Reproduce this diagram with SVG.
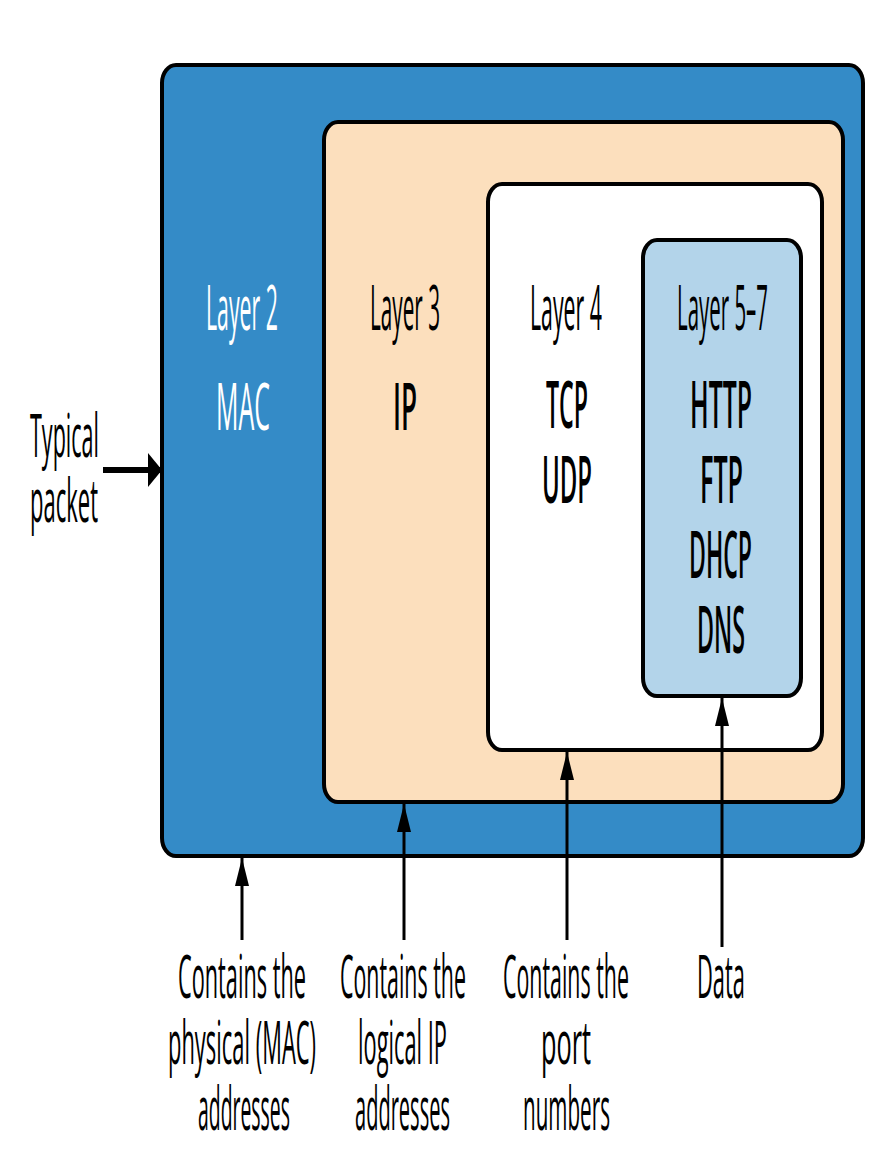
<svg xmlns="http://www.w3.org/2000/svg" width="880" height="1155" viewBox="0 0 880 1155">
<style>
.box{stroke:#000;stroke-width:4}
.t{font-family:"Open Sans","Liberation Sans",sans-serif;text-anchor:start}
.lay{font-size:63px}
.pro{font-size:66px;font-weight:600}
.lbl{font-size:61px}
.w{fill:#fff}
.k{fill:#000}
.ln{stroke:#000;stroke-width:3;fill:none}
</style>
<defs>
<marker id="up" markerUnits="userSpaceOnUse" markerWidth="28" markerHeight="14" refX="28" refY="7" orient="auto">
<path d="M0,0 L28,7 L0,14 z" fill="#000"/>
</marker>
<marker id="rt" markerUnits="userSpaceOnUse" markerWidth="14" markerHeight="34" refX="14" refY="17" orient="auto">
<path d="M0,0 L14,17 L0,34 z" fill="#000"/>
</marker>
</defs>
<g id="layer2">
<rect class="box" x="162" y="65" width="701" height="791" rx="14" ry="18" fill="#348BC7"/>
<text class="t lay w" transform="translate(206,330) scale(0.35,1)" textLength="205.7" lengthAdjust="spacingAndGlyphs">Layer 2</text>
<text class="t pro w" transform="translate(216,430) scale(0.35,1)" textLength="154.3" lengthAdjust="spacingAndGlyphs" style="font-weight:400">MAC</text>
</g>
<g id="layer3">
<rect class="box" x="324" y="122" width="519" height="680" rx="14" ry="18" fill="#FCDFBD"/>
<text class="t lay k" transform="translate(370,330) scale(0.35,1)" textLength="200" lengthAdjust="spacingAndGlyphs">Layer 3</text>
<text class="t pro k" transform="translate(393,430) scale(0.35,1)" textLength="68.6" lengthAdjust="spacingAndGlyphs">IP</text>
</g>
<g id="layer4">
<rect class="box" x="488" y="184" width="334" height="566" rx="14" ry="18" fill="#FFFFFF"/>
<text class="t lay k" transform="translate(530,330) scale(0.35,1)" textLength="205.7" lengthAdjust="spacingAndGlyphs">Layer 4</text>
<text class="t pro k" transform="translate(546,428) scale(0.35,1)" textLength="120" lengthAdjust="spacingAndGlyphs">TCP</text>
<text class="t pro k" transform="translate(542,503) scale(0.35,1)" textLength="142.9" lengthAdjust="spacingAndGlyphs">UDP</text>
</g>
<g id="layer57">
<rect class="box" x="643" y="240" width="158" height="456" rx="14" ry="18" fill="#B3D4EA"/>
<text class="t lay k" transform="translate(677,330) scale(0.35,1)" textLength="260" lengthAdjust="spacingAndGlyphs">Layer 5–7</text>
<text class="t pro k" transform="translate(690,428) scale(0.35,1)" textLength="177.1" lengthAdjust="spacingAndGlyphs">HTTP</text>
<text class="t pro k" transform="translate(700,503) scale(0.35,1)" textLength="122.9" lengthAdjust="spacingAndGlyphs">FTP</text>
<text class="t pro k" transform="translate(689,578) scale(0.35,1)" textLength="180" lengthAdjust="spacingAndGlyphs">DHCP</text>
<text class="t pro k" transform="translate(697,653) scale(0.35,1)" textLength="137.1" lengthAdjust="spacingAndGlyphs">DNS</text>
</g>
<g id="packet">
<text class="t lbl k" transform="translate(30,457) scale(0.35,1)" textLength="197.1" lengthAdjust="spacingAndGlyphs">Typical</text>
<text class="t lbl k" transform="translate(30,522) scale(0.35,1)" textLength="194.3" lengthAdjust="spacingAndGlyphs">packet</text>
</g>
<g id="note2">
<text class="t lbl k" transform="translate(178,998) scale(0.35,1)" textLength="365.7" lengthAdjust="spacingAndGlyphs">Contains the</text>
<text class="t lbl k" transform="translate(168,1064) scale(0.35,1)" textLength="422.9" lengthAdjust="spacingAndGlyphs">physical (MAC)</text>
<text class="t lbl k" transform="translate(198,1130) scale(0.35,1)" textLength="262.9" lengthAdjust="spacingAndGlyphs">addresses</text>
</g>
<g id="note3">
<text class="t lbl k" transform="translate(340,998) scale(0.35,1)" textLength="360" lengthAdjust="spacingAndGlyphs">Contains the</text>
<text class="t lbl k" transform="translate(358,1064) scale(0.35,1)" textLength="254.3" lengthAdjust="spacingAndGlyphs">logical IP</text>
<text class="t lbl k" transform="translate(355,1130) scale(0.35,1)" textLength="271.4" lengthAdjust="spacingAndGlyphs">addresses</text>
</g>
<g id="note4">
<text class="t lbl k" transform="translate(503,998) scale(0.35,1)" textLength="360" lengthAdjust="spacingAndGlyphs">Contains the</text>
<text class="t lbl k" transform="translate(541,1064) scale(0.35,1)" textLength="142.9" lengthAdjust="spacingAndGlyphs">port</text>
<text class="t lbl k" transform="translate(523,1130) scale(0.35,1)" textLength="248.6" lengthAdjust="spacingAndGlyphs">numbers</text>
</g>
<g id="noteData">
<text class="t lbl k" transform="translate(697,998) scale(0.35,1)" textLength="137.1" lengthAdjust="spacingAndGlyphs">Data</text>
</g>
<g id="connectors">
<line x1="103" y1="470" x2="162" y2="470" stroke="#000" stroke-width="6" marker-end="url(#rt)"/>
<line class="ln" x1="242" y1="940" x2="242" y2="858" marker-end="url(#up)"/>
<line class="ln" x1="404" y1="940" x2="404" y2="804" marker-end="url(#up)"/>
<line class="ln" x1="567" y1="940" x2="567" y2="752" marker-end="url(#up)"/>
<line class="ln" x1="722" y1="947" x2="722" y2="698" marker-end="url(#up)"/>
</g>
</svg>
